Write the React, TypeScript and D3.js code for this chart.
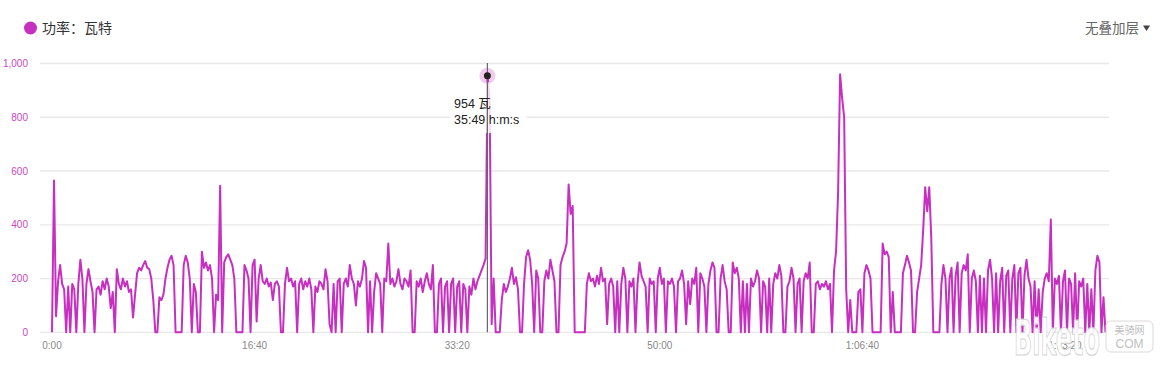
import React from 'react';
import * as d3 from 'd3';

// power samples, one every SAMPLE_STEP seconds, in watts
const SAMPLE_STEP = 10;
const power: number[] = [
  0, 565, 60, 190, 250, 180, 160, 0, 170, 0,
  180, 160, 0, 180, 270, 200, 0, 180, 235, 190,
  150, 0, 160, 170, 140, 190, 160, 200, 170, 90,
  150, 0, 235, 180, 160, 200, 170, 190, 150, 160,
  55, 140, 220, 240, 230, 250, 265, 240, 235, 200,
  120, 0, 0, 130, 120, 140, 200, 240, 270, 285,
  250, 0, 0, 0, 0, 250, 285, 260, 200, 0,
  180, 150, 0, 0, 300, 240, 260, 230, 250, 200,
  0, 140, 120, 545, 0, 260, 280, 290, 270, 250,
  200, 0, 0, 0, 0, 250, 230, 200, 0, 250,
  270, 40, 200, 250, 190, 180, 200, 170, 185, 120,
  180, 190, 170, 0, 0, 180, 240, 190, 200, 170,
  190, 0, 180, 200, 160, 190, 170, 200, 160, 0,
  170, 150, 190, 180, 160, 235, 190, 30, 0, 180,
  0, 190, 200, 0, 180, 200, 170, 250, 200, 180,
  100, 190, 170, 200, 265, 240, 0, 190, 0, 150,
  220, 200, 180, 0, 200, 190, 330, 180, 200, 170,
  190, 235, 180, 160, 200, 190, 170, 230, 0, 0,
  190, 170, 200, 150, 190, 220, 180, 160, 250, 0,
  0, 180, 200, 0, 170, 190, 0, 180, 200, 0,
  170, 190, 0, 180, 160, 0, 170, 140, 200, 160,
  190, 210, 230, 250, 275, 954, 870, 30, 200, 0,
  0, 0, 120, 180, 150, 170, 200, 240, 180, 205,
  160, 0, 0, 180, 280, 305, 270, 180, 0, 230,
  200, 0, 0, 190, 230, 200, 270, 230, 190, 0,
  0, 250, 280, 300, 330, 550, 440, 470, 0, 0,
  0, 0, 0, 0, 180, 220, 190, 200, 170, 210,
  180, 240, 190, 200, 30, 180, 200, 170, 0, 190,
  0, 180, 240, 200, 0, 190, 170, 200, 0, 180,
  260, 210, 190, 170, 0, 200, 180, 190, 0, 200,
  240, 180, 200, 0, 190, 180, 200, 170, 0, 190,
  200, 230, 180, 30, 190, 105, 200, 180, 240, 0,
  220, 200, 170, 0, 180, 230, 260, 240, 0, 0,
  200, 250, 190, 160, 0, 0, 260, 220, 240, 200,
  0, 190, 0, 180, 0, 200, 170, 190, 230, 200,
  0, 190, 170, 0, 200, 0, 180, 220, 200, 250,
  210, 0, 0, 170, 190, 240, 200, 0, 180, 200,
  0, 190, 220, 200, 260, 0, 0, 180, 190, 160,
  180, 170, 190, 160, 180, 0, 230, 300, 520, 960,
  870, 800, 160, 0, 120, 0, 0, 0, 150, 160,
  0, 220, 250, 230, 200, 0, 0, 0, 0, 0,
  330, 290, 300, 280, 0, 150, 0, 0, 0, 0,
  220, 250, 285, 260, 230, 0, 0, 150, 200, 250,
  380, 540, 450, 540, 350, 0, 0, 0, 0, 180,
  250, 200, 0, 200, 240, 0, 210, 260, 0, 220,
  250, 230, 290, 0, 200, 230, 190, 0, 210, 0,
  200, 0, 230, 270, 200, 0, 220, 0, 190, 240,
  0, 210, 230, 0, 200, 250, 0, 220, 240, 0,
  210, 270, 200, 170, 0, 190, 0, 160, 0, 150,
  200, 220, 190, 420, 0, 200, 180, 210, 0, 190,
  230, 0, 200, 180, 0, 220, 0, 190, 170, 200,
  0, 180, 0, 160, 0, 230, 285, 260, 0, 130,
  0,
];

const yTicks = [0, 200, 400, 600, 800, 1000];
const xTicks = [0, 1000, 2000, 3000, 4000, 5000];
const legendLabel = '功率：瓦特';
const overlayLabel = '无叠加层';
const hoverSeconds = 2149;
const hoverValue = 954;
const hoverUnit = '瓦';
const hoverTimeUnit = 'h:m:s';

const pad = (n: number) => String(n).padStart(2, '0');
const fmtTime = (s: number) => {
  const h = Math.floor(s / 3600);
  const m = Math.floor((s % 3600) / 60);
  const sec = Math.floor(s % 60);
  return h > 0 ? `${h}:${pad(m)}:${pad(sec)}` : `${m}:${pad(sec)}`;
};

const LINE = '#c72fc0';
const FONT = '"Liberation Sans", Arial, Helvetica, sans-serif';
const CJK = '"Noto Sans CJK SC", "Noto Sans", sans-serif';

export default function App() {
  const W = 1170;
  const H = 366;
  const x = d3.scaleLinear().domain([0, 5000]).range([52, 1065]);
  const y = d3.scaleLinear().domain([0, 1000]).range([332.3, 63.5]);
  const gridLeft = 40;
  const gridRight = 1109;
  const line = d3
    .line<number>()
    .x((_, i) => x(i * SAMPLE_STEP))
    .y((d) => y(d));
  const path = line(power) || '';
  const hx = x(hoverSeconds);
  const hy = y(hoverValue);

  return (
    <svg
      width={W}
      height={H}
      style={{ position: 'absolute', left: 0, top: 0, background: '#fff' }}
    >
      <rect width={W} height={H} fill="#fff" />
      {/* legend */}
      <circle cx={30.5} cy={28} r={6.5} fill={LINE} />
      <text x={42} y={33} fontSize={14} fill="#333" fontFamily={CJK}>
        {legendLabel}
      </text>
      <text x={1085} y={33} fontSize={13.5} fill="#666" fontFamily={CJK}>
        {overlayLabel}
      </text>
      <path d="M1143,25.5 L1150,25.5 L1146.5,31 Z" fill="#444" />

      {/* grid */}
      {yTicks.map((t) => (
        <g key={t}>
          <line
            x1={gridLeft}
            x2={gridRight}
            y1={y(t)}
            y2={y(t)}
            stroke="#e8e8e8"
            strokeWidth={1.3}
          />
          <text
            x={28}
            y={y(t) + 3.5}
            textAnchor="end"
            fontSize={10}
            fill="#c848c0"
            fontFamily={FONT}
          >
            {d3.format(',')(t)}
          </text>
        </g>
      ))}
      {xTicks.map((t) => (
        <text
          key={t}
          x={x(t)}
          y={349}
          textAnchor="middle"
          fontSize={10}
          fill="#888"
          fontFamily={FONT}
        >
          {fmtTime(t)}
        </text>
      ))}

      {/* data */}
      <path d={path} fill="none" stroke={LINE} strokeWidth={2} strokeLinejoin="round" />

      {/* tooltip */}
      <rect x={450} y={82} width={77} height={51} fill="#fff" opacity={0.82} />
      <line x1={hx} x2={hx} y1={63} y2={332.3} stroke="#666" strokeWidth={1.2} />
      <circle cx={hx} cy={hy} r={8} fill={LINE} opacity={0.25} />
      <circle cx={hx} cy={hy} r={3.5} fill="#222" />
      <text x={454} y={108} fontSize={12.5} fill="#222" fontFamily={FONT}>
        {`${hoverValue} `}
        <tspan fontFamily={CJK}>{hoverUnit}</tspan>
      </text>
      <text x={454} y={124} fontSize={12.5} fill="#222" fontFamily={FONT}>
        {`${fmtTime(hoverSeconds)} ${hoverTimeUnit}`}
      </text>

      {/* watermark */}
      <g opacity={0.92}>
        <text
          x={1014}
          y={355}
          fontSize={50}
          fontWeight="bold"
          fontFamily='"DejaVu Sans", sans-serif'
          fill="#fff"
          stroke="#d0d0d0"
          strokeWidth={1.2}
          textLength={86}
          lengthAdjust="spacingAndGlyphs"
        >
          Biketo
        </text>
        <rect x={1106} y={321} width={47} height={31} rx={5} fill="#fff" stroke="#d8d8d8" />
        <text x={1129.5} y={334} textAnchor="middle" fontSize={10} fill="#bbb" fontFamily={CJK}>
          美骑网
        </text>
        <text x={1129.5} y={348} textAnchor="middle" fontSize={12} fill="#bbb" fontFamily={FONT}>
          COM
        </text>
      </g>
    </svg>
  );
}
